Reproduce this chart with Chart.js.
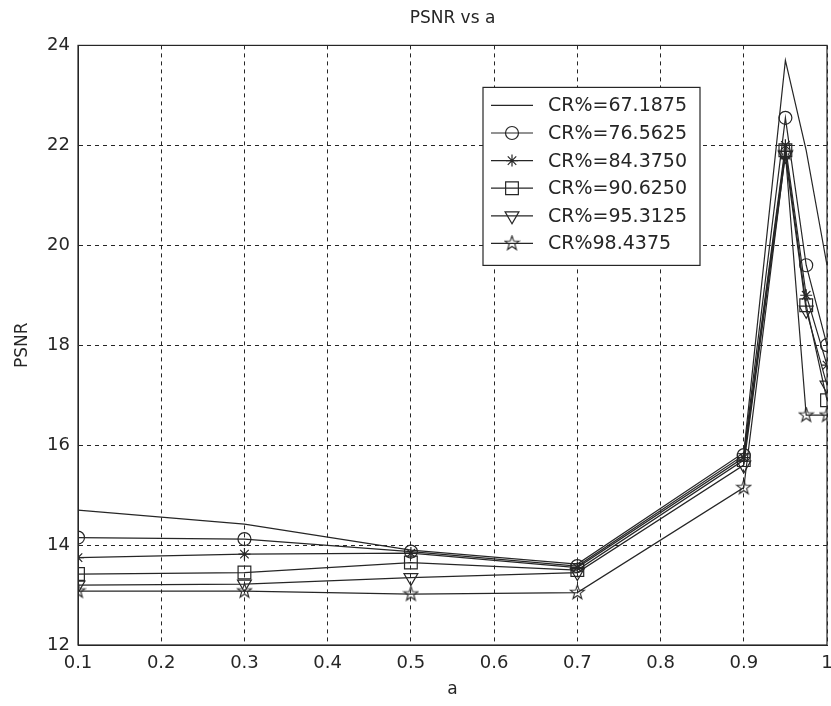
<!DOCTYPE html>
<html>
<head>
<meta charset="utf-8">
<script src="https://cdn.jsdelivr.net/npm/chart.js@4/dist/chart.umd.min.js"></script>
<style>
  html, body { margin: 0; padding: 0; background: #fff; }
  #wrap { width: 831px; height: 706px; }
</style>
</head>
<body>
<div id="wrap"><canvas id="PSNR"></canvas></div>
<script>
// values
var aVals = [0.1, 0.3, 0.5, 0.7, 0.9, 0.95, 0.975, 1.0];
var cr671875 = [14.70, 14.42, 13.90, 13.62, 15.85, 23.70, 21.90, 19.60];
var cr765625 = [14.15, 14.12, 13.87, 13.58, 15.80, 22.55, 19.60, 18.00];
var cr843750 = [13.75, 13.82, 13.84, 13.55, 15.75, 22.00, 19.00, 17.60];
var cr906250 = [13.42, 13.45, 13.65, 13.50, 15.70, 21.90, 18.80, 16.90];
var cr953125 = [13.20, 13.22, 13.35, 13.45, 15.60, 21.80, 18.70, 17.20];
var cr984375 = [13.08, 13.08, 13.02, 13.05, 15.15, 21.85, 16.60, 16.60];
var seriesLabels = ['CR%=67.1875', 'CR%=76.5625', 'CR%=84.3750', 'CR%=90.6250', 'CR%=95.3125', 'CR%98.4375'];
var xTicks = [0.1, 0.2, 0.3, 0.4, 0.5, 0.6, 0.7, 0.8, 0.9, 1];
var yTicks = [12, 14, 16, 18, 20, 22, 24];

var ink = '#262626';
var font = 'DejaVu Sans';

// pentagram marker (not built in)
function makePentagram(size) {
  var c = document.createElement('canvas');
  c.width = size; c.height = size;
  var g = c.getContext('2d');
  g.strokeStyle = ink;
  g.lineWidth = 1.1;
  var cx = size / 2, cy = size / 2, R = size / 2 - 1, r = R * 0.4;
  g.beginPath();
  for (var i = 0; i < 10; i++) {
    var ang = -Math.PI / 2 + i * Math.PI / 5;
    var rad = (i % 2) ? r : R;
    var px = cx + rad * Math.cos(ang), py = cy + rad * Math.sin(ang);
    if (i === 0) g.moveTo(px, py); else g.lineTo(px, py);
  }
  g.closePath();
  g.stroke();
  return c;
}
var pentagram = makePentagram(17);

var markers = [
  { pointStyle: false, radius: 0, rotation: 0 },
  { pointStyle: 'circle', radius: 6.5, rotation: 0 },
  { pointStyle: 'star', radius: 6, rotation: 0 },
  { pointStyle: 'rect', radius: 9, rotation: 0 },
  { pointStyle: 'triangle', radius: 8, rotation: 180 },
  { pointStyle: pentagram, radius: 8, rotation: 0 }
];

function pts(ys) {
  return ys.map(function (y, i) { return { x: aVals[i], y: y }; });
}

var allSeries = [cr671875, cr765625, cr843750, cr906250, cr953125, cr984375];
var datasets = allSeries.map(function (ys, i) {
  var m = markers[i];
  return {
    label: seriesLabels[i],
    data: pts(ys),
    borderColor: ink,
    borderWidth: 1.2,
    pointStyle: m.pointStyle === false ? 'circle' : m.pointStyle,
    pointRadius: m.radius,
    pointRotation: m.rotation,
    pointBorderColor: ink,
    pointBackgroundColor: 'rgba(0,0,0,0)',
    pointBorderWidth: 1.2,
    tension: 0
  };
});

// box around plot + legend inside the axes
var matlabBox = {
  id: 'matlabBox',
  afterDraw: function (chart) {
    var ctx = chart.ctx, a = chart.chartArea;
    ctx.save();
    ctx.strokeStyle = ink;
    ctx.lineWidth = 1.2;
    ctx.strokeRect(a.left, a.top, a.right - a.left, a.bottom - a.top);

    // legend
    var lx = a.left + 405, ly = a.top + 42, lw = 217, lh = 178;
    ctx.fillStyle = '#fff';
    ctx.fillRect(lx, ly, lw, lh);
    ctx.strokeRect(lx, ly, lw, lh);
    ctx.font = '19px "' + font + '"';
    ctx.textBaseline = 'middle';
    ctx.textAlign = 'left';
    for (var i = 0; i < datasets.length; i++) {
      var ry = ly + 18 + i * 27.6;
      ctx.strokeStyle = ink;
      ctx.lineWidth = 1.2;
      ctx.beginPath();
      ctx.moveTo(lx + 8, ry);
      ctx.lineTo(lx + 50, ry);
      ctx.stroke();
      var m = markers[i];
      if (m.pointStyle !== false) {
        ctx.fillStyle = 'rgba(0,0,0,0)';
        Chart.helpers.drawPoint(ctx, {
          pointStyle: m.pointStyle, radius: m.radius, rotation: m.rotation, borderWidth: 1.2
        }, lx + 29, ry);
      }
      ctx.fillStyle = ink;
      ctx.fillText(seriesLabels[i], lx + 65, ry + 1);
    }
    ctx.restore();
  }
};

Chart.defaults.font.family = font;
Chart.defaults.color = ink;

new Chart(document.getElementById('PSNR').getContext('2d'), {
  type: 'line',
  data: { datasets: datasets },
  plugins: [matlabBox],
  options: {
    responsive: true,
    maintainAspectRatio: false,
    animation: false,
    layout: { autoPadding: false, padding: { left: 0, right: 4, top: 0, bottom: 0 } },
    plugins: {
      legend: { display: false },
      tooltip: { enabled: false },
      title: {
        display: true,
        text: 'PSNR vs a',
        fullSize: false,
        font: { size: 17, weight: 'normal' },
        color: ink,
        padding: { top: 8, bottom: 17 }
      }
    },
    scales: {
      x: {
        type: 'linear',
        min: 0.1,
        max: 1,
        afterFit: function (s) { s.height = 61; s.paddingRight = 0; s.paddingLeft = 0; },
        afterBuildTicks: function (s) { s.ticks = xTicks.map(function (v) { return { value: v }; }); },
        ticks: {
          font: { size: 18 },
          color: ink,
          padding: 8,
          maxRotation: 0,
          callback: function (v) { return Math.abs(v - 1) < 1e-9 ? '1' : v.toFixed(1); }
        },
        grid: { color: ink, lineWidth: 1, drawTicks: false },
        border: { display: true, color: ink, dash: [4, 4] },
        title: { display: true, text: 'a', font: { size: 17 }, color: ink, padding: { top: 0, bottom: 6 } }
      },
      y: {
        min: 12,
        max: 24,
        afterFit: function (s) { s.width = 78; s.paddingTop = 0; s.paddingBottom = 0; },
        afterBuildTicks: function (s) { s.ticks = yTicks.map(function (v) { return { value: v }; }); },
        ticks: { font: { size: 18 }, color: ink, padding: 8 },
        grid: { color: ink, lineWidth: 1, drawTicks: false },
        border: { display: true, color: ink, dash: [4, 4] },
        title: { display: true, text: 'PSNR', font: { size: 17 }, color: ink, padding: { top: 12, bottom: 0 } }
      }
    }
  }
});
</script>
</body>
</html>
